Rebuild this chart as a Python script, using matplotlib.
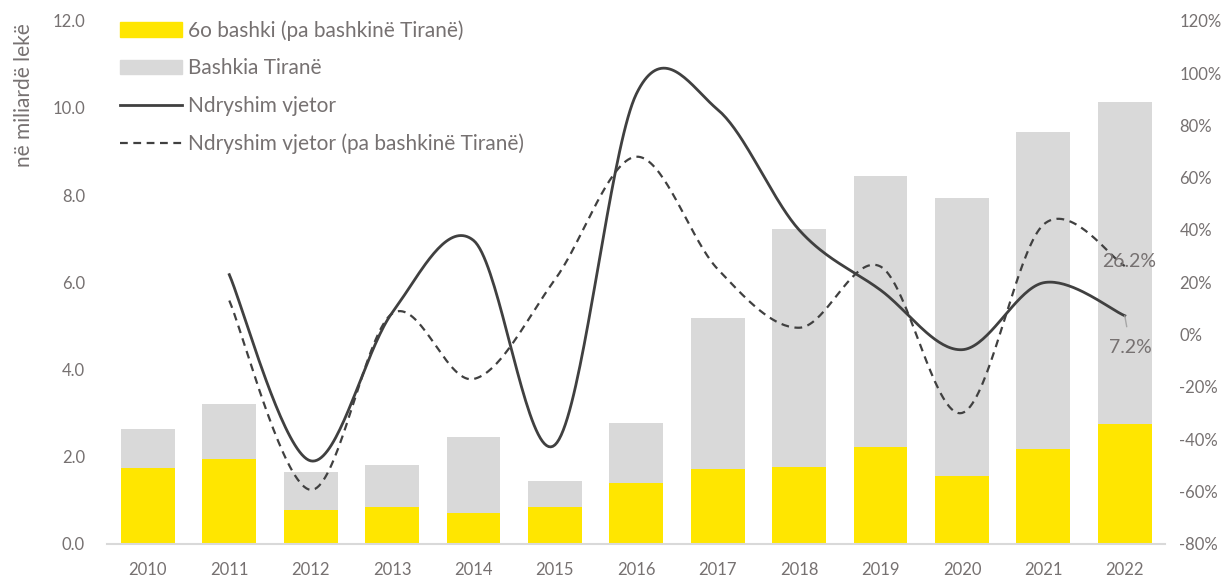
#!/usr/bin/env python3

import numpy as np
import matplotlib
matplotlib.use("Agg")
import matplotlib.pyplot as plt
from matplotlib.lines import Line2D
from matplotlib.patches import Patch

years = ["2010", "2011", "2012", "2013", "2014", "2015", "2016",
         "2017", "2018", "2019", "2020", "2021", "2022"]
# bashkite pa Tiranen (miliarde leke)
other = [1.74, 1.95, 0.78, 0.85, 0.71, 0.85, 1.40, 1.72, 1.77, 2.22, 1.56, 2.18, 2.75]
# Bashkia Tirane (pjesa mbi to)
tirana = [0.90, 1.26, 0.87, 0.96, 1.74, 0.59, 1.38, 3.46, 5.45, 6.22, 6.38, 7.27, 7.39]
# ndryshim vjetor, % (nga 2011)
chg_all = [22.9, -48.3, 8.3, 36.0, -42.2, 92.0, 86.0, 40.0, 17.0, -5.8, 19.8, 7.2]
chg_other = [13.0, -59.4, 8.0, -17.0, 21.0, 68.0, 25.0, 2.6, 26.0, -30.0, 42.0, 26.2]

grey_txt = "#767171"
line_col = "#404040"
plt.rcParams["font.family"] = ["Lato", "DejaVu Sans"]


def smooth(x, y, n=40):
    # excel-like smoothed line: bezier segments with catmull-rom handles
    x = np.asarray(x, float)
    y = np.asarray(y, float)
    px = np.concatenate([[x[0]], x, [x[-1]]])
    py = np.concatenate([[y[0]], y, [y[-1]]])
    xs, ys = [], []
    t = np.linspace(0, 1, n)[:, None]
    for i in range(1, len(x)):
        p0 = np.array([px[i], py[i]])
        p3 = np.array([px[i + 1], py[i + 1]])
        p1 = p0 + (np.array([px[i + 1], py[i + 1]]) - np.array([px[i - 1], py[i - 1]])) / 6
        p2 = p3 - (np.array([px[i + 2], py[i + 2]]) - np.array([px[i], py[i]])) / 6
        b = (1 - t) ** 3 * p0 + 3 * (1 - t) ** 2 * t * p1 + 3 * (1 - t) * t ** 2 * p2 + t ** 3 * p3
        xs.append(b[:, 0])
        ys.append(b[:, 1])
    return np.concatenate(xs), np.concatenate(ys)


fig = plt.figure(figsize=(12.32, 5.76), dpi=100)
ax = fig.add_axes([0.087, 0.056, 0.859, 0.908])
x = np.arange(len(years))
ax.bar(x, other, width=0.66, color="#FFE600", zorder=2)
ax.bar(x, tirana, width=0.66, bottom=other, color="#D9D9D9", zorder=2)
ax.set_ylim(0, 12)
ax.set_xlim(-0.5, len(years) - 0.5)
ax.set_yticks(np.arange(0, 12.1, 2))
ax.set_yticklabels(["%.1f" % v for v in np.arange(0, 12.1, 2)])
ax.set_xticks(x)
ax.set_xticklabels(years)
ax.tick_params(length=0, colors=grey_txt, labelsize=12)
ax.tick_params(axis="x", pad=13)
ax.tick_params(axis="y", pad=16)
for s in ["top", "right", "left"]:
    ax.spines[s].set_visible(False)
ax.spines["bottom"].set_color("#D9D9D9")
ax.spines["bottom"].set_linewidth(1.5)
ax.set_ylabel("në miliardë lekë", color=grey_txt, fontsize=15, loc="top")
ax.yaxis.set_label_coords(-0.069, 0.995)

ax2 = ax.twinx()
ax2.set_ylim(-80, 120)
ax2.set_yticks(np.arange(-80, 121, 20))
ax2.set_yticklabels(["%d%%" % v for v in np.arange(-80, 121, 20)])
ax2.tick_params(length=0, colors=grey_txt, labelsize=12, pad=10)
for s in ax2.spines.values():
    s.set_visible(False)

sx, sy = smooth(x[1:], chg_all)
ax2.plot(sx, sy, color=line_col, lw=2.0, zorder=3)
dx, dy = smooth(x[1:], chg_other)
ax2.plot(dx, dy, color=line_col, lw=1.6, ls=(0, (3.5, 2.5)), zorder=3)

ax2.text(x[-1] + 0.05, 28, "%.1f%%" % chg_other[-1], color=grey_txt,
         fontsize=14, ha="center", va="center")
ax2.annotate("%.1f%%" % chg_all[-1], xy=(x[-1], chg_all[-1]), xytext=(x[-1] + 0.07, -5),
             color=grey_txt, fontsize=14, ha="center", va="center",
             arrowprops=dict(arrowstyle="-", color="#A6A6A6", lw=1, shrinkA=7, shrinkB=0))

handles = [Patch(color="#FFE600"), Patch(color="#D9D9D9"),
           Line2D([], [], color=line_col, lw=2.0),
           Line2D([], [], color=line_col, lw=1.6, ls=(0, (3.5, 2.5)))]
labels = ["6o bashki (pa bashkinë Tiranë)", "Bashkia Tiranë", "Ndryshim vjetor",
          "Ndryshim vjetor (pa bashkinë Tiranë)"]
leg = ax2.legend(handles, labels, loc="upper left", bbox_to_anchor=(0.0, 1.025), frameon=False,
                 fontsize=15, handlelength=3.0, handleheight=0.7, labelspacing=0.85,
                 handletextpad=0.3, borderaxespad=0.2)
for t in leg.get_texts():
    t.set_color(grey_txt)

fig.savefig("out.png", dpi=100)
